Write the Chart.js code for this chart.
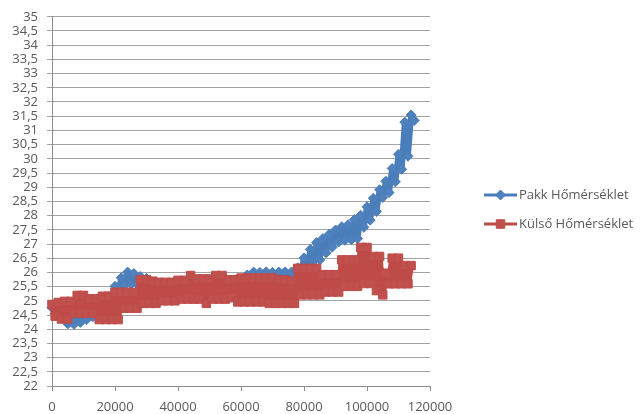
<!DOCTYPE html>
<html>
<head>
<meta charset="utf-8">
<script src="https://cdn.jsdelivr.net/npm/chart.js@4/dist/chart.umd.min.js"></script>
<style>
  html, body { margin: 0; padding: 0; background: #ffffff; }
  #wrap { width: 642px; height: 414px; }
</style>
</head>
<body>
<div id="wrap"><canvas id="chart" width="642" height="414"></canvas></div>
<script>
// Sample position (elapsed readings) shared by both temperature series
const elapsed = [
  0, 1000, 2000, 3000, 4000, 5000, 6000, 7000, 8000, 9000,
  10000, 11000, 12000, 13000, 14000, 15000, 16000, 17000, 18000, 19000,
  20000, 21000, 22000, 23000, 24000, 25000, 26000, 27000, 28000, 29000,
  30000, 31000, 32000, 33000, 34000, 35000, 36000, 37000, 38000, 39000,
  40000, 41000, 42000, 43000, 44000, 45000, 46000, 47000, 48000, 49000,
  50000, 51000, 52000, 53000, 54000, 55000, 56000, 57000, 58000, 59000,
  60000, 61000, 62000, 63000, 64000, 65000, 66000, 67000, 68000, 69000,
  70000, 71000, 72000, 73000, 74000, 75000, 76000, 77000, 78000, 79000,
  80000, 81000, 82000, 83000, 84000, 85000, 86000, 87000, 88000, 89000,
  90000, 91000, 92000, 93000, 94000, 95000, 96000, 97000, 98000, 99000,
  100000, 101000, 102000, 103000, 104000, 105000, 106000, 107000, 108000, 109000,
  110000, 111000, 112000, 113000, 114000, 115000
];

// Battery pack temperature (°C)
const pakk = [
  24.76, 24.54, 24.71, 24.39, 24.61, 24.19, 24.51, 24.17, 24.56, 24.24,
  24.66, 24.34, 24.76, 24.44, 24.91, 24.64, 25.01, 24.84, 25.16, 25.04,
  25.51, 25.29, 25.81, 25.54, 26.01, 25.59, 25.96, 25.59, 25.86, 25.54,
  25.79, 25.49, 25.66, 25.44, 25.56, 25.44, 25.58, 25.42, 25.55, 25.45,
  25.57, 25.43, 25.56, 25.44, 25.58, 25.46, 25.57, 25.44, 25.60, 25.45,
  25.62, 25.46, 25.58, 25.45, 25.57, 25.46, 25.60, 25.47, 25.61, 25.49,
  25.76, 25.59, 25.91, 25.69, 26.01, 25.69, 26.00, 25.70, 26.02, 25.68,
  26.00, 25.70, 26.01, 25.69, 26.02, 25.70, 26.01, 25.79, 26.16, 25.99,
  26.51, 26.14, 26.81, 26.24, 27.05, 26.44, 27.19, 26.69, 27.34, 26.89,
  27.49, 27.07, 27.61, 27.13, 27.68, 27.15, 27.86, 27.19, 28.01, 27.59,
  28.31, 27.84, 28.61, 28.14, 28.91, 28.64, 29.21, 28.81, 29.66, 29.19,
  30.16, 29.63, 31.29, 30.09, 31.54, 31.35
];

// Outside (ambient) temperature (°C)
const kulso = [
  24.87, 24.46, 24.94, 24.36, 24.98, 24.36, 24.98, 24.56, 25.19, 24.56,
  25.19, 24.56, 25.07, 24.56, 25.07, 24.34, 25.16, 24.34, 25.16, 24.34,
  25.30, 24.34, 25.30, 24.74, 25.30, 24.74, 25.30, 24.74, 25.74, 24.91,
  25.74, 24.91, 25.69, 24.91, 25.65, 25.00, 25.65, 25.00, 25.65, 25.00,
  25.72, 25.06, 25.72, 25.06, 25.89, 25.06, 25.77, 25.06, 25.77, 24.91,
  25.77, 25.06, 25.89, 25.06, 25.89, 25.06, 25.74, 25.11, 25.74, 24.96,
  25.80, 24.96, 25.80, 24.96, 25.80, 24.96, 25.80, 24.96, 25.80, 24.91,
  25.80, 24.91, 25.74, 24.91, 25.74, 24.91, 25.69, 24.91, 26.14, 25.21,
  26.14, 25.21, 26.14, 25.21, 26.14, 25.21, 25.92, 25.31, 25.92, 25.31,
  25.92, 25.31, 26.44, 25.51, 26.44, 25.51, 26.44, 25.51, 26.88, 25.61,
  26.88, 25.61, 26.56, 25.36, 26.56, 25.21, 25.97, 25.60, 26.50, 25.60,
  26.50, 25.60, 26.24, 25.60, 26.24
];

const seriesNames = ['Pakk Hőmérséklet', 'Külső Hőmérséklet'];

// Axis ranges and tick spacing
const xRange = [0, 120000];
const xStep = 20000;
const yRange = [22, 35];
const yStep = 0.5;

const BLUE_LINE = '#4A7EBB', BLUE_FILL = '#4F81BD';
const RED_LINE = '#BE4B48', RED_FILL = '#C0504D';
const GRID = '#a3a3a3';
const AXIS = '#8c8c8c';
const TEXT = '#595959';
const FONT_FAMILY = "'Open Sans', 'DejaVu Sans', sans-serif";

const toPoints = ys => ys.map((y, i) => ({ x: elapsed[i], y: y }));

// Legend at the right: a short line with the series marker, then the name
const sideLegend = {
  id: 'sideLegend',
  afterDraw(chart) {
    const ctx = chart.ctx;
    const rows = [195, 224];
    chart.data.datasets.forEach((ds, i) => {
      const y = rows[i];
      ctx.save();
      ctx.strokeStyle = ds.borderColor;
      ctx.lineWidth = 3;
      ctx.lineCap = 'butt';
      ctx.beginPath();
      ctx.moveTo(484, y);
      ctx.lineTo(517, y);
      ctx.stroke();
      ctx.fillStyle = ds.pointBackgroundColor;
      ctx.strokeStyle = ds.pointBorderColor;
      ctx.lineWidth = ds.pointBorderWidth;
      Chart.helpers.drawPoint(ctx, {
        pointStyle: ds.pointStyle,
        radius: ds.pointRadius,
        borderWidth: ds.pointBorderWidth,
        rotation: 0
      }, 500.5, y);
      ctx.fillStyle = TEXT;
      ctx.font = "13px " + FONT_FAMILY;
      ctx.textAlign = 'left';
      ctx.textBaseline = 'middle';
      ctx.fillText(ds.label, 519, y);
      ctx.restore();
    });
  }
};

new Chart(document.getElementById('chart'), {
  type: 'scatter',
  data: {
    datasets: [
      {
        label: seriesNames[0],
        data: toPoints(pakk),
        showLine: true,
        borderColor: BLUE_LINE,
        borderWidth: 6,
        borderJoinStyle: 'round',
        borderCapStyle: 'round',
        pointStyle: 'rectRot',
        pointRadius: 5,
        pointBackgroundColor: BLUE_FILL,
        pointBorderColor: BLUE_LINE,
        pointBorderWidth: 1,
        order: 2,
        clip: false
      },
      {
        label: seriesNames[1],
        data: toPoints(kulso),
        showLine: true,
        borderColor: RED_LINE,
        borderWidth: 6,
        borderJoinStyle: 'round',
        borderCapStyle: 'round',
        pointStyle: 'rect',
        pointRadius: 6,
        pointBackgroundColor: RED_FILL,
        pointBorderColor: RED_LINE,
        pointBorderWidth: 1,
        order: 1,
        clip: false
      }
    ]
  },
  options: {
    responsive: false,
    animation: false,
    devicePixelRatio: 1,
    layout: { padding: { left: 0, top: 12, right: 212, bottom: 0 } },
    plugins: {
      legend: { display: false },
      tooltip: { enabled: false }
    },
    scales: {
      x: {
        type: 'linear',
        min: xRange[0],
        max: xRange[1],
        afterFit(scale) { scale.height = 28; },
        ticks: {
          stepSize: xStep,
          color: TEXT,
          padding: 8,
          maxRotation: 0,
          font: { family: FONT_FAMILY, size: 13 },
          callback: v => String(v)
        },
        grid: {
          drawOnChartArea: false,
          drawTicks: true,
          tickLength: 5,
          color: AXIS
        },
        border: { display: true, color: AXIS, width: 1 }
      },
      y: {
        type: 'linear',
        min: yRange[0],
        max: yRange[1],
        afterFit(scale) { scale.width = 52; },
        ticks: {
          stepSize: yStep,
          color: TEXT,
          padding: 9,
          autoSkip: false,
          font: { family: FONT_FAMILY, size: 13 },
          callback: v => String(Math.round(v * 10) / 10).replace('.', ',')
        },
        grid: {
          color: GRID,
          drawTicks: true,
          tickLength: 5
        },
        border: { display: true, color: AXIS, width: 1 }
      }
    }
  },
  plugins: [sideLegend]
});
</script>
</body>
</html>
